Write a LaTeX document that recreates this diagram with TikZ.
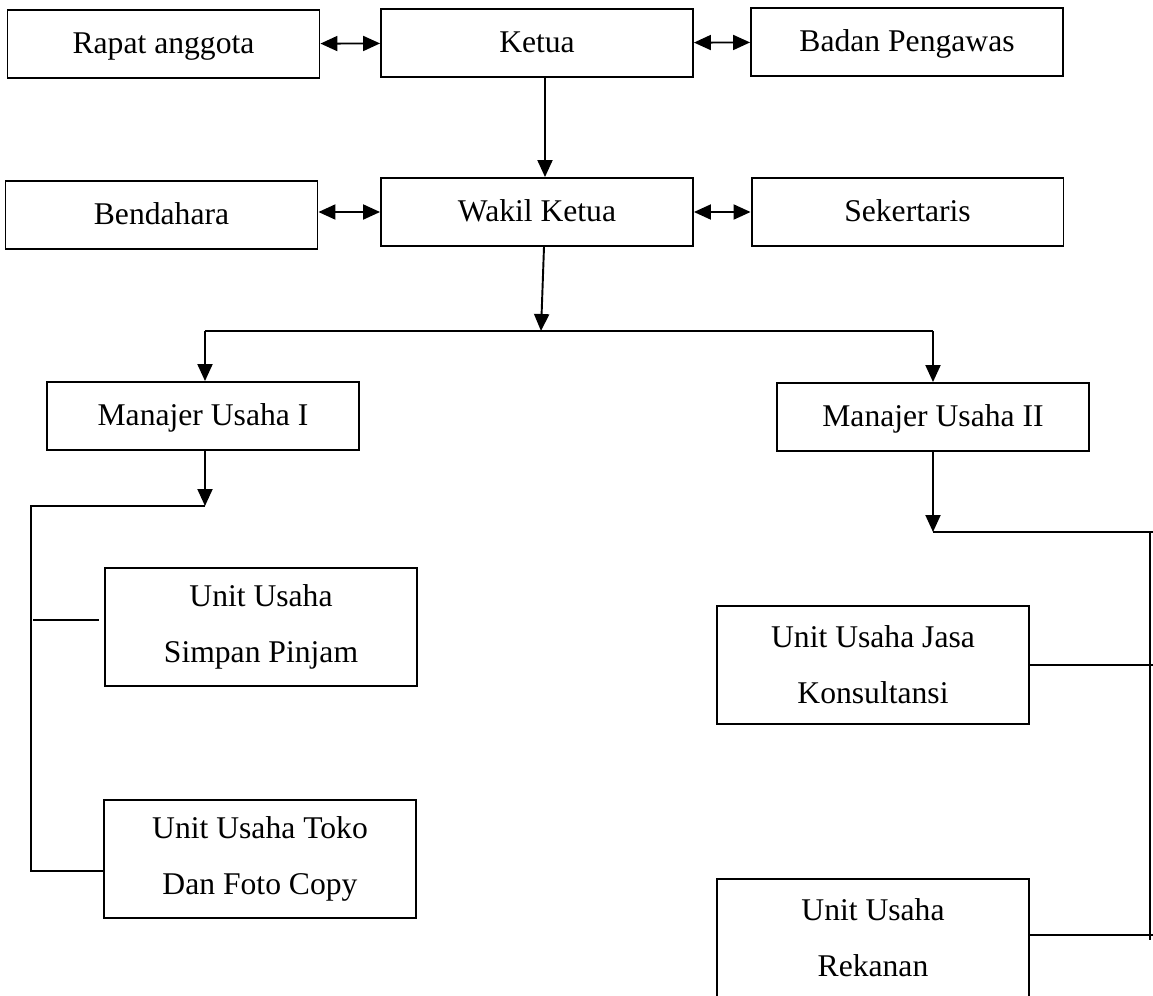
\documentclass[tikz,border=0pt]{standalone}
\usepackage{fontspec}
\setmainfont{Liberation Serif}
\usetikzlibrary{arrows.meta, calc}

\begin{document}
\begin{tikzpicture}[
	x=0.02cm, y=-0.02cm,
	>={Triangle[length=0.34cm, width=0.3cm]},
	% Styles for the boxes and the lines
	unitbox/.style={draw, line width=1.1pt, minimum width=6.24cm, minimum height=1.36cm, inner sep=0pt, text height=14pt, text depth=3.4pt, font=\fontsize{18}{32}\selectfont},
	tallbox/.style={unitbox, minimum height=2.36cm, align=center, text height=, text depth=},
	link/.style={line width=1.1pt},
	bus/.style={line width=0.6pt}
	]
	% fixes the size of the page
	\clip (0,0) rectangle (1153,995);
	
	% ==========================================
	% 1. TOP ROWS
	% ==========================================
	\node[unitbox] (rapat) at (163.5, 44) {Rapat anggota};
	\node[unitbox] (ketua) at (537, 43) {Ketua};
	\node[unitbox] (badan) at (907, 42) {Badan Pengawas};
	
	\node[unitbox] (bendahara) at (161.5, 215) {Bendahara};
	\node[unitbox] (wakil) at (537, 212) {Wakil Ketua};
	\node[unitbox] (sekertaris) at (907.5, 212) {Sekertaris};
	
	\draw[link, <->] (rapat) -- (ketua);
	\draw[link, <->] (ketua) -- (badan);
	\draw[link, <->] (bendahara.east |- 0,212) -- (wakil);
	\draw[link, <->] (wakil) -- (sekertaris);
	\draw[link, ->] ([xshift=0.16cm]ketua.south) -- ([xshift=0.16cm]wakil.north);
	
	% ==========================================
	% 2. MANAJER USAHA
	% ==========================================
	\node[unitbox] (manajerA) at (203, 416) {Manajer Usaha I};
	\node[unitbox] (manajerB) at (933, 417) {Manajer Usaha II};
	
	\coordinate (busM) at (541, 331);
	\coordinate (busL) at (205, 331);
	\coordinate (busR) at (933, 331);
	\draw[link, ->] ([xshift=0.14cm]wakil.south) -- (busM);
	\draw[bus] (busL) -- (busR);
	\draw[link, ->] (busL) -- (busL |- manajerA.north);
	\draw[link, ->] (busR) -- (manajerB.north);
	
	% ==========================================
	% 3. UNIT USAHA (LEFT)
	% ==========================================
	\node[tallbox] (simpan) at (261, 627) {Unit Usaha\\Simpan Pinjam};
	\node[tallbox] (toko) at (260, 859) {Unit Usaha Toko\\Dan Foto Copy};
	
	\coordinate (leftBus) at (205, 506);
	\coordinate (leftTop) at (31, 506);
	\coordinate (leftEnd) at (31, 871);
	\draw[link, ->] (manajerA.south -| leftBus) -- (leftBus);
	\draw[bus] (leftBus) -- (leftTop) -- (leftEnd) -- (leftEnd -| toko.west);
	\draw[bus] (33, 620) -- (99, 620);
	
	% ==========================================
	% 4. UNIT USAHA (RIGHT)
	% ==========================================
	\node[tallbox] (jasa) at (873, 665) {Unit Usaha Jasa\\Konsultansi};
	\node[tallbox] (rekanan) at (873, 938) {Unit Usaha\\Rekanan};
	
	\coordinate (rightBus) at (933, 532);
	\coordinate (rightTop) at (1150, 532);
	\coordinate (rightEnd) at (1150, 940);
	\draw[link, ->] (manajerB.south) -- (rightBus);
	\draw[bus] (rightBus) -- (1153, 532);
	\draw[bus] (rightTop) -- (rightEnd);
	\draw[bus] (jasa.east) -- (jasa.east -| 1153,0);
	\draw[bus] (rekanan.east |- 0,935) -- (1153, 935);
\end{tikzpicture}
\end{document}
